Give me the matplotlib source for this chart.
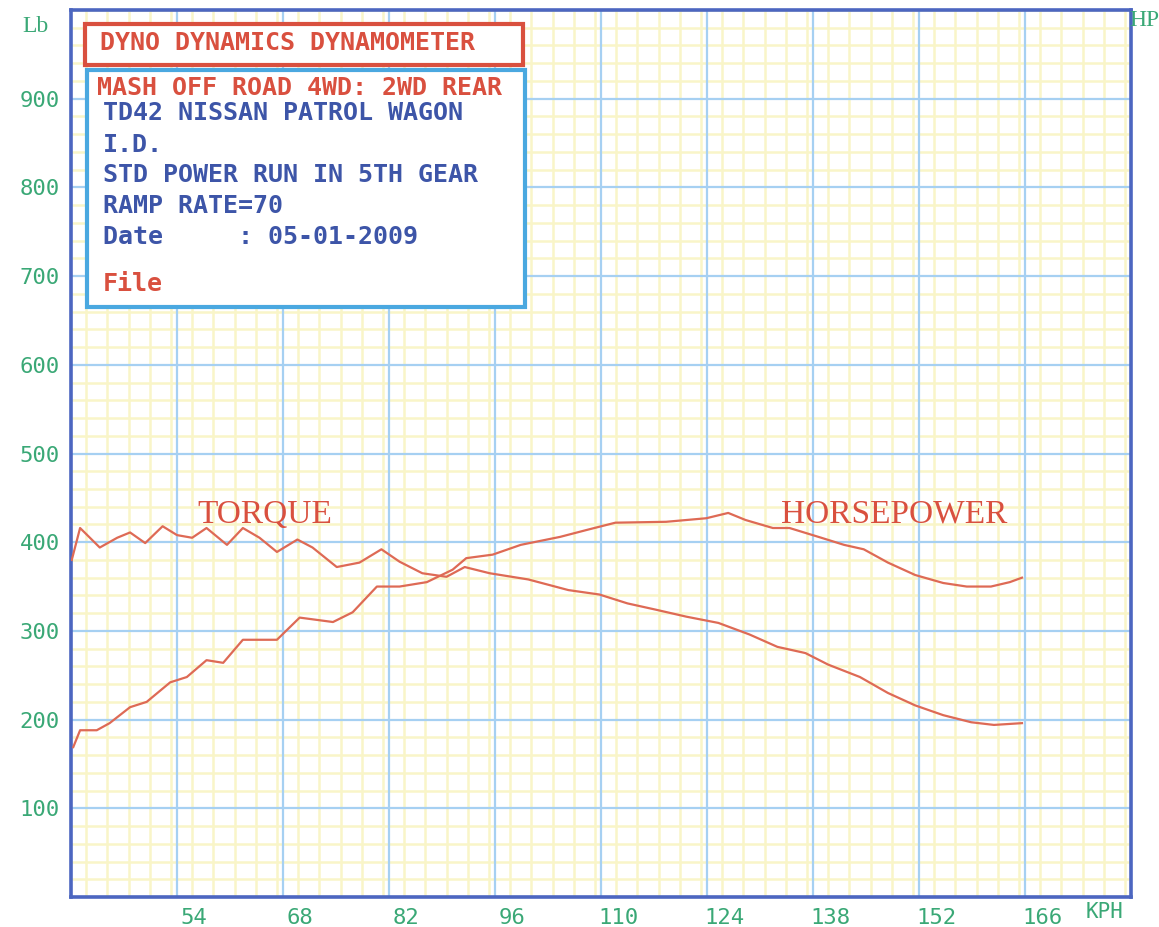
import matplotlib
matplotlib.use('Agg')
import matplotlib.pyplot as plt
import matplotlib.transforms as mtransforms
from matplotlib.patches import Rectangle
from matplotlib.ticker import MultipleLocator

# dyno run, values (KPH vs Lb / HP)
torque_kph = [40.1, 41.2, 43.8, 46.1, 47.8, 49.8, 52.1, 54.0, 56.0, 57.9, 60.6, 62.7,
              64.9, 67.2, 69.9, 71.9, 75.1, 78.1, 81.0, 83.4, 86.4, 89.6, 92.0, 95.3,
              100.4, 105.7, 109.8, 113.5, 117.2, 121.3, 125.5, 129.6, 133.3, 137.0,
              140.0, 144.2, 147.9, 151.5, 155.2, 158.9, 161.9, 165.6]
torque_val = [380, 416, 394, 405, 411, 399, 418, 408, 405, 416, 397, 416,
              405, 389, 403, 394, 372, 377, 392, 378, 365, 361, 372, 365,
              358, 346, 341, 331, 324, 316, 309, 296, 282, 275,
              262, 248, 230, 216, 205, 197, 194, 196]

hp_kph = [40.3, 41.2, 43.4, 45.1, 47.8, 50.0, 53.1, 55.3, 57.9, 60.1, 62.7, 64.9,
          67.2, 70.2, 74.6, 77.2, 80.4, 83.4, 87.0, 90.4, 92.2, 95.7, 99.4, 104.6,
          108.2, 111.9, 118.6, 123.9, 126.8, 129.1, 132.7, 134.9, 139.1, 142.1,
          144.7, 147.9, 151.5, 155.2, 158.3, 161.5, 164.0, 165.6]
hp_val = [169, 188, 188, 196, 214, 220, 242, 248, 267, 264, 290, 290,
          290, 315, 310, 321, 350, 350, 355, 369, 382, 386, 397, 406,
          414, 422, 423, 427, 433, 425, 416, 416, 405, 397,
          392, 377, 363, 354, 350, 350, 355, 360]

x_ticks = [54, 68, 82, 96, 110, 124, 138, 152, 166]
y_ticks = [100, 200, 300, 400, 500, 600, 700, 800, 900]

header = "DYNO DYNAMICS DYNAMOMETER"
info_lines = ["MASH OFF ROAD 4WD: 2WD REAR", "TD42 NISSAN PATROL WAGON", "I.D.",
              "STD POWER RUN IN 5TH GEAR", "RAMP RATE=70", "Date     : 05-01-2009", "File"]

RED = '#d9503f'
BLUE_TXT = '#3d55a8'
GREEN = '#3aa876'
CURVE = '#de6a55'
GRID_BLUE = '#a6d0f2'
MONO = 'DejaVu Sans Mono'

fig = plt.figure(figsize=(11.59, 9.27), dpi=100)
ax = fig.add_axes([71/1159, 30/927, 1060/1159, 887/927])
ax.set_xlim(40, 180)
ax.set_ylim(0, 1000)

# fine yellow paper grid, blue lines on the major divisions
ax.xaxis.set_minor_locator(MultipleLocator(2.8))
ax.yaxis.set_minor_locator(MultipleLocator(20))
ax.grid(which='minor', color='#f9f5c8', lw=1.8)
ax.set_axisbelow(True)
for v in x_ticks:
    ax.axvline(v, color=GRID_BLUE, lw=1.6, zorder=1)
for v in y_ticks:
    ax.axhline(v, color=GRID_BLUE, lw=1.6, zorder=1)

ax.set_xticks(x_ticks)
ax.set_xticklabels([str(v) for v in x_ticks])
ax.set_yticks(y_ticks)
ax.set_yticklabels([str(v) for v in y_ticks])
ax.tick_params(which='both', length=0)
ax.tick_params(axis='x', pad=8, labelsize=16, labelcolor=GREEN)
ax.tick_params(axis='y', pad=8, labelsize=16, labelcolor=GREEN)
for lab in ax.get_xticklabels() + ax.get_yticklabels():
    lab.set_family(MONO)
# labels sit a bit right of the grid lines on the sheet
shift = mtransforms.ScaledTranslation(0.17, 0, fig.dpi_scale_trans)
for lab in ax.get_xticklabels():
    lab.set_transform(lab.get_transform() + shift)

for s in ax.spines.values():
    s.set_color('#4c66c0')
    s.set_linewidth(2.6)

ax.plot(torque_kph, torque_val, color=CURVE, lw=1.6, zorder=3)
ax.plot(hp_kph, hp_val, color=CURVE, lw=1.6, zorder=3)

ax.text(56.7, 431, "TORQUE", family='Liberation Serif', fontsize=24, color=RED,
        va='center', ha='left', zorder=4)
ax.text(133.8, 431, "HORSEPOWER", family='Liberation Serif', fontsize=24, color=RED,
        va='center', ha='left', zorder=4)

# header boxes
ax.add_patch(Rectangle((0.0132, 0.938), 0.4132, 0.046, transform=ax.transAxes,
                       facecolor='white', edgecolor=RED, lw=3, zorder=5))
ax.add_patch(Rectangle((0.0151, 0.665), 0.4132, 0.267, transform=ax.transAxes,
                       facecolor='white', edgecolor='#4aa8e0', lw=3, zorder=5))
ax.text((100-71)/1060, (897-43)/887, header, transform=ax.transAxes, family=MONO,
        fontsize=18, weight='bold', color=RED, va='center', ha='left', zorder=6)

line_x = [97, 103, 103, 103, 103, 103, 103]
line_y = [88, 113, 145, 175, 206, 237, 284]
line_c = [RED, BLUE_TXT, BLUE_TXT, BLUE_TXT, BLUE_TXT, BLUE_TXT, RED]
for txt, px, py, c in zip(info_lines, line_x, line_y, line_c):
    ax.text((px-71)/1060, (897-py)/887, txt, transform=ax.transAxes, family=MONO,
            fontsize=18, weight='bold', color=c, va='center', ha='left', zorder=6)

fig.text(35/1159, 1-27/927, "Lb", family='Liberation Serif', fontsize=17,
         color=GREEN, ha='center', va='center')
fig.text(1144/1159, 1-20/927, "HP", family='Liberation Serif', fontsize=17,
         color=GREEN, ha='center', va='center')
fig.text(1105/1159, 1-912/927, "KPH", family=MONO, fontsize=15,
         color=GREEN, ha='center', va='center')

fig.savefig('out.png', dpi=100)
